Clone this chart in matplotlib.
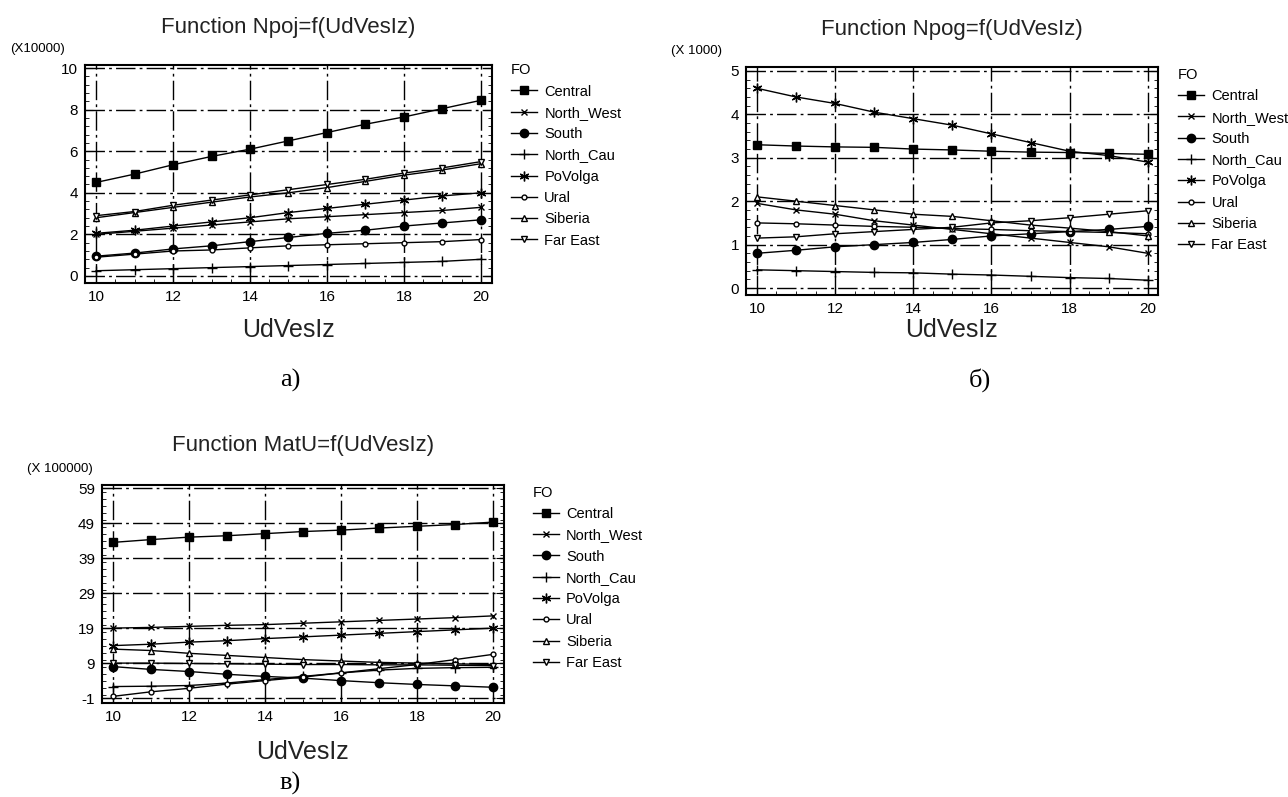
import matplotlib
matplotlib.use("Agg")
import matplotlib.pyplot as plt
from matplotlib.ticker import MultipleLocator

plt.rcParams['font.family'] = ['Liberation Sans Narrow', 'Liberation Sans', 'DejaVu Sans']
plt.rcParams['axes.unicode_minus'] = False

# x values (UdVesIz)
udvesiz = [10, 11, 12, 13, 14, 15, 16, 17, 18, 19, 20]
regions = ['Central', 'North_West', 'South', 'North_Cau', 'PoVolga', 'Ural', 'Siberia', 'Far East']

# Npoj, x 10000
npoj_values = [
    [4.5, 4.9, 5.35, 5.75, 6.1, 6.5, 6.9, 7.3, 7.65, 8.05, 8.45],   # Central
    [2.0, 2.15, 2.3, 2.45, 2.6, 2.75, 2.85, 2.95, 3.05, 3.15, 3.3],  # North_West
    [0.95, 1.1, 1.3, 1.45, 1.65, 1.85, 2.05, 2.2, 2.4, 2.55, 2.7],   # South
    [0.25, 0.3, 0.35, 0.4, 0.45, 0.5, 0.55, 0.6, 0.65, 0.7, 0.8],    # North_Cau
    [2.05, 2.2, 2.4, 2.6, 2.8, 3.05, 3.25, 3.45, 3.65, 3.85, 4.0],   # PoVolga
    [0.9, 1.05, 1.2, 1.25, 1.35, 1.45, 1.5, 1.55, 1.6, 1.65, 1.75],  # Ural
    [2.8, 3.05, 3.3, 3.55, 3.8, 4.0, 4.25, 4.55, 4.85, 5.1, 5.4],    # Siberia
    [2.9, 3.1, 3.4, 3.65, 3.9, 4.15, 4.4, 4.65, 4.95, 5.2, 5.5],     # Far East
]

# Npog, x 1000
npog_values = [
    [3.3, 3.27, 3.25, 3.24, 3.2, 3.18, 3.15, 3.13, 3.12, 3.1, 3.08],   # Central
    [1.95, 1.8, 1.7, 1.55, 1.45, 1.35, 1.25, 1.15, 1.05, 0.95, 0.8],   # North_West
    [0.8, 0.87, 0.95, 1.0, 1.05, 1.12, 1.2, 1.25, 1.3, 1.35, 1.42],    # South
    [0.42, 0.4, 0.38, 0.36, 0.35, 0.32, 0.3, 0.27, 0.24, 0.22, 0.18],  # North_Cau
    [4.6, 4.4, 4.25, 4.05, 3.9, 3.75, 3.55, 3.35, 3.15, 3.05, 2.9],    # PoVolga
    [1.5, 1.48, 1.45, 1.42, 1.4, 1.37, 1.35, 1.32, 1.3, 1.28, 1.25],   # Ural
    [2.1, 2.0, 1.9, 1.8, 1.7, 1.65, 1.55, 1.45, 1.38, 1.3, 1.2],       # Siberia
    [1.15, 1.18, 1.25, 1.3, 1.35, 1.4, 1.5, 1.55, 1.62, 1.7, 1.78],    # Far East
]

# MatU, x 100000
matu_values = [
    [43.5, 44.3, 45.0, 45.4, 46.0, 46.6, 47.0, 47.6, 48.1, 48.6, 49.3],  # Central
    [19.0, 19.2, 19.5, 19.8, 20.0, 20.4, 20.8, 21.2, 21.6, 22.0, 22.5],  # North_West
    [8.0, 7.2, 6.6, 5.8, 5.2, 4.7, 4.0, 3.4, 2.9, 2.5, 2.1],             # South
    [2.3, 2.4, 2.6, 3.3, 4.3, 5.2, 6.2, 7.0, 7.5, 7.7, 7.8],             # North_Cau
    [14.0, 14.4, 15.0, 15.4, 16.0, 16.5, 17.0, 17.5, 18.0, 18.5, 19.0],  # PoVolga
    [-0.5, 0.8, 1.8, 3.0, 4.0, 5.0, 6.2, 7.4, 8.6, 10.0, 11.5],          # Ural
    [13.0, 12.6, 11.8, 11.2, 10.6, 10.0, 9.6, 9.2, 9.0, 8.8, 8.6],       # Siberia
    [9.0, 9.0, 8.9, 8.8, 8.7, 8.6, 8.6, 8.5, 8.5, 8.4, 8.3],             # Far East
]

markers = [
    dict(marker='s', ms=5.5, mfc='black'),
    dict(marker='x', ms=5, mfc='none'),
    dict(marker='o', ms=6, mfc='black'),
    dict(marker='+', ms=7, mfc='none'),
    dict(marker=(6, 2, 0), ms=7, mfc='none'),
    dict(marker='o', ms=3.5, mfc='white'),
    dict(marker='^', ms=5, mfc='white'),
    dict(marker='v', ms=5, mfc='white'),
]

dashdot = (0, (14, 3, 2, 3))

fig = plt.figure(figsize=(12.88, 7.97), dpi=100)


def px_axes(left, top, right, bottom):
    W, H = 1288.0, 797.0
    return fig.add_axes([left / W, 1 - bottom / H, (right - left) / W, (bottom - top) / H])


def draw_panel(ax, values, xlim, ylim, yticks, title, mult, legend_xy, xlabel_y, title_y):
    for vals, name, m in zip(values, regions, markers):
        ax.plot(udvesiz, vals, color='black', lw=1.0, mec='black', mew=1.0,
                label=name, **m)
    ax.set_xlim(*xlim)
    ax.set_ylim(*ylim)
    ax.set_xticks([10, 12, 14, 16, 18, 20])
    ax.set_yticks(yticks)
    ax.xaxis.set_minor_locator(MultipleLocator(0.5))
    ax.yaxis.set_minor_locator(MultipleLocator((yticks[1] - yticks[0]) / 5))
    ax.tick_params(which='both', direction='in', left=True, right=True,
                   bottom=True, top=False, labelsize=11, color='black', pad=5)
    ax.tick_params(which='major', length=6)
    ax.tick_params(which='minor', length=3)
    ax.grid(True, which='major', color='black', lw=1.0, linestyle=dashdot)
    for s in ax.spines.values():
        s.set_linewidth(1.5)
    bb = ax.get_position()
    cx = (bb.x0 + bb.x1) / 2
    fig.text(cx, title_y, title, ha='center', va='center', fontsize=16, color='#222222')
    fig.text(bb.x0 - 0.058, bb.y1 + 0.012, mult, ha='left', va='bottom', fontsize=9.5)
    fig.text(cx, xlabel_y, 'UdVesIz', ha='center', va='center', fontsize=18, color='#222222')
    leg = ax.legend(loc='upper left', bbox_to_anchor=legend_xy,
                    bbox_transform=fig.transFigure, frameon=False, title='FO',
                    fontsize=10.5, title_fontsize=10.5, handlelength=1.8,
                    labelspacing=0.5, handletextpad=0.5, borderaxespad=0)
    leg._legend_box.align = 'left'


ax1 = px_axes(85, 65, 492, 283)
draw_panel(ax1, npoj_values, (9.71, 20.29), (-0.34, 10.15), [0, 2, 4, 6, 8, 10],
           'Function Npoj=f(UdVesIz)', '(X10000)', (0.392, 0.928),
           1 - 330 / 797, 1 - 28 / 797)

ax2 = px_axes(746, 67, 1158, 295)
draw_panel(ax2, npog_values, (9.72, 20.26), (-0.16, 5.09), [0, 1, 2, 3, 4, 5],
           'Function Npog=f(UdVesIz)', '(X 1000)', (0.91, 0.922),
           1 - 330 / 797, 1 - 30 / 797)

ax3 = px_axes(102, 485, 504, 703)
draw_panel(ax3, matu_values, (9.71, 20.29), (-2.4, 59.9), [-1, 9, 19, 29, 39, 49, 59],
           'Function MatU=f(UdVesIz)', '(X 100000)', (0.409, 0.398),
           1 - 752 / 797, 1 - 445 / 797)

serif = ['Liberation Serif', 'DejaVu Serif']
fig.text(290 / 1288, 1 - 380 / 797, 'а)', ha='center', va='center', fontsize=19, family=serif)
fig.text(980 / 1288, 1 - 380 / 797, 'б)', ha='center', va='center', fontsize=19, family=serif)
fig.text(290 / 1288, 1 - 783 / 797, 'в)', ha='center', va='center', fontsize=19, family=serif)

fig.savefig('out.png', dpi=100, facecolor='white')
